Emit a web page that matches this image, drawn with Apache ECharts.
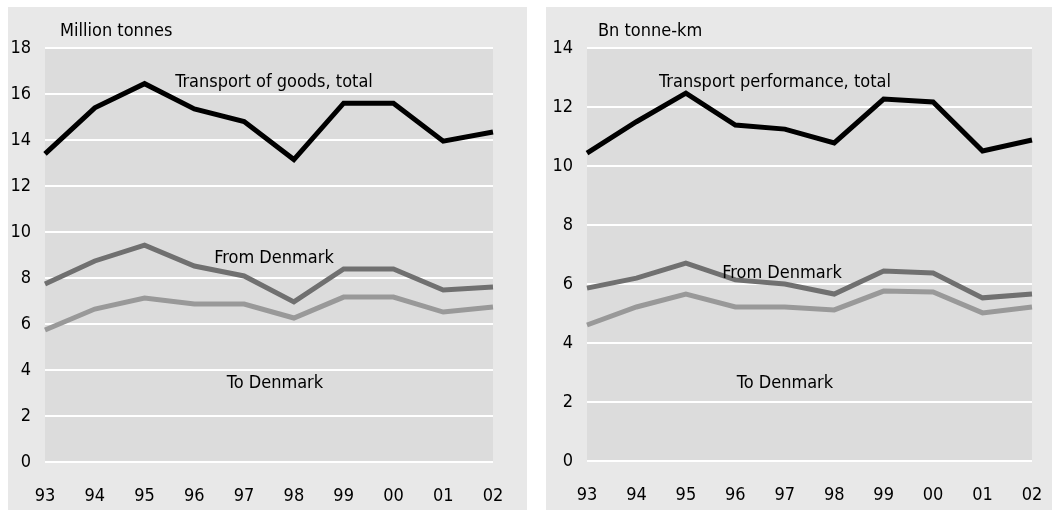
<!DOCTYPE html>
<html>
<head>
<meta charset="utf-8">
<script src="https://cdn.jsdelivr.net/npm/echarts@6/dist/echarts.min.js"></script>
<style>
	body { margin: 0; background: #fff; }
	.chart { position: absolute; top: 7px; height: 503px; }
	#left { left: 8px; width: 519px; }
	#right { left: 546px; width: 506px; }
</style>
</head>
<body>
<div class="chart" id="left"></div>
<div class="chart" id="right"></div>
<script>
	var years = ['93','94','95','96','97','98','99','00','01','02'];

	// Million tonnes
	var goodsTotal = [13.4, 15.4, 16.45, 15.35, 14.8, 13.15, 15.6, 15.6, 13.95, 14.35];
	var goodsFrom = [7.74, 8.74, 9.43, 8.52, 8.09, 6.96, 8.39, 8.39, 7.48, 7.61];
	var goodsTo = [5.74, 6.65, 7.13, 6.87, 6.87, 6.26, 7.17, 7.17, 6.52, 6.74];

	// Bn tonne-km
	var perfTotal = [10.44, 11.5, 12.47, 11.39, 11.25, 10.78, 12.27, 12.17, 10.51, 10.88];
	var perfFrom = [5.86, 6.2, 6.71, 6.14, 6.0, 5.66, 6.44, 6.37, 5.53, 5.66];
	var perfTo = [4.61, 5.22, 5.66, 5.22, 5.22, 5.12, 5.76, 5.73, 5.02, 5.22];

	var font = '"DejaVu Sans Condensed", "Liberation Sans", sans-serif';

	function note(text, x, y) {
		return {
			type: 'text',
			x: x,
			y: y,
			z: 100,
			style: {
				text: text,
				fill: '#000',
				font: '18px ' + font,
				textAlign: 'center',
				textVerticalAlign: 'middle'
			}
		};
	}

	function line(data, color) {
		return {
			type: 'line',
			data: data,
			symbol: 'none',
			silent: true,
			lineStyle: { color: color, width: 5, join: 'miter' }
		};
	}

	function makeOption(cfg) {
		return {
			animation: false,
			backgroundColor: '#e8e8e8',
			textStyle: { fontFamily: font },
			title: {
				text: cfg.unit,
				left: cfg.titleLeft,
				top: 10,
				textStyle: { fontSize: 18, fontWeight: 'normal', color: '#000', fontFamily: font }
			},
			grid: {
				left: cfg.grid[0], top: cfg.grid[1], right: cfg.grid[2], bottom: cfg.grid[3],
				outerBoundsMode: 'none',
				show: true,
				backgroundColor: '#dcdcdc',
				borderWidth: 0
			},
			xAxis: {
				type: 'category',
				boundaryGap: false,
				data: years,
				axisLine: { show: false },
				axisTick: { show: false },
				axisLabel: { color: '#000', fontSize: 18, margin: 25, interval: 0, fontFamily: font }
			},
			yAxis: {
				type: 'value',
				min: 0,
				max: cfg.max,
				interval: 2,
				axisLine: { show: false },
				axisTick: { show: false },
				axisLabel: { color: '#000', fontSize: 18, margin: 14, fontFamily: font },
				splitLine: { lineStyle: { color: '#fff', width: 2 } }
			},
			series: [
				line(cfg.to, '#999999'),
				line(cfg.from, '#707070'),
				line(cfg.total, '#000000')
			],
			graphic: cfg.notes
		};
	}

	var left = echarts.init(document.getElementById('left'));
	left.setOption(makeOption({
		unit: 'Million tonnes',
		titleLeft: 47,
		grid: [37, 41, 34, 48],
		max: 18,
		total: goodsTotal,
		from: goodsFrom,
		to: goodsTo,
		notes: [
			note('Transport of goods, total', 266, 75),
			note('From Denmark', 266, 251),
			note('To Denmark', 267, 376)
		]
	}));

	var right = echarts.init(document.getElementById('right'));
	right.setOption(makeOption({
		unit: 'Bn tonne-km',
		titleLeft: 47,
		grid: [41, 41, 20, 49],
		max: 14,
		total: perfTotal,
		from: perfFrom,
		to: perfTo,
		notes: [
			note('Transport performance, total', 229, 75),
			note('From Denmark', 236, 266),
			note('To Denmark', 239, 376)
		]
	}));
</script>
</body>
</html>
